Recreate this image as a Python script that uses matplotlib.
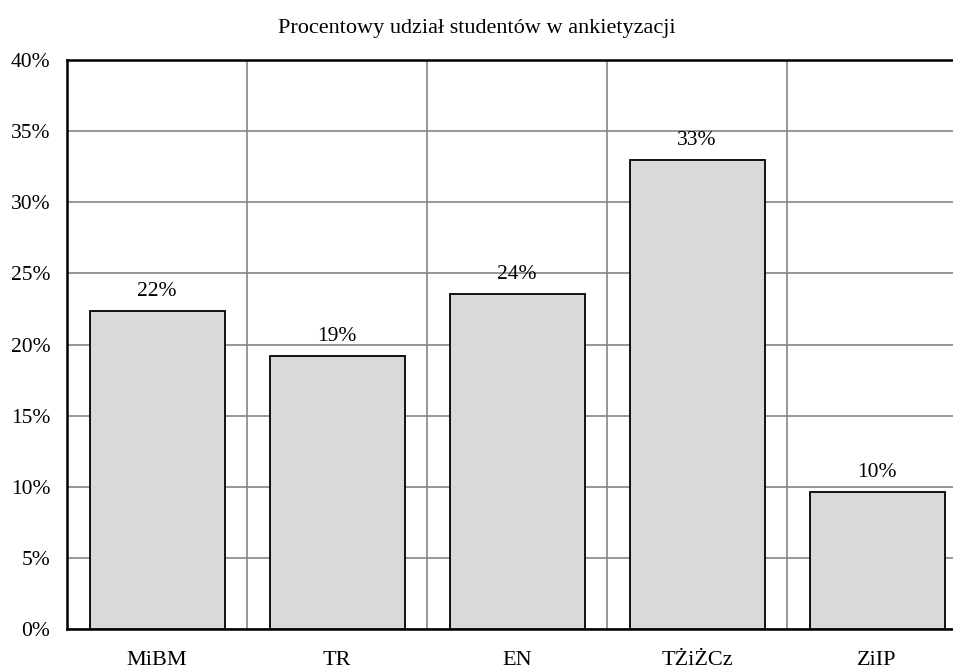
import numpy as np
import matplotlib.pyplot as plt
from matplotlib.ticker import FuncFormatter, MultipleLocator

# udział procentowy wg kierunku
kierunki = ["MiBM", "TR", "EN", "TŻiŻCz", "ZiIP"]
udzial = [22.35, 19.2, 23.55, 33.0, 9.65]
etykiety = ["22%", "19%", "24%", "33%", "10%"]

plt.rcParams['font.family'] = ['Liberation Serif', 'DejaVu Serif']

fig = plt.figure(figsize=(9.54, 6.70), dpi=100)
ax = fig.add_axes([67 / 954, 41 / 670, 900 / 954, 569 / 670])

x = np.arange(len(kierunki))
bars = ax.bar(x, udzial, width=0.75, color="#d9d9d9", edgecolor="black", linewidth=1.3, zorder=3)

for b, t in zip(bars, etykiety):
    ax.annotate(t, (b.get_x() + b.get_width() / 2, b.get_height()), xytext=(0, 7),
                textcoords="offset points", ha="center", va="bottom", fontsize=15.5)

ax.set_xlim(-0.5, len(kierunki) - 0.5)
ax.set_ylim(0, 40)
ax.yaxis.set_major_locator(MultipleLocator(5))
ax.yaxis.set_major_formatter(FuncFormatter(lambda v, p: f"{v:.0f}%"))
ax.set_xticks(x)
ax.set_xticklabels(kierunki)
ax.set_xticks(np.arange(len(kierunki) + 1) - 0.5, minor=True)

ax.grid(axis="y", which="major", color="#868686", linewidth=1.2, zorder=0)
ax.grid(axis="x", which="minor", color="#868686", linewidth=1.2, zorder=0)
ax.tick_params(axis="both", which="both", length=0, labelsize=15.5)
ax.tick_params(axis="x", labelsize=16, pad=16)
ax.tick_params(axis="y", pad=12)

for s in ax.spines.values():
    s.set_linewidth(1.8)
    s.set_color("black")

fig.text(0.5, 1 - 28 / 670, "Procentowy udział studentów w ankietyzacji", ha="center", va="center", fontsize=16)

fig.savefig("out.png", dpi=100)
